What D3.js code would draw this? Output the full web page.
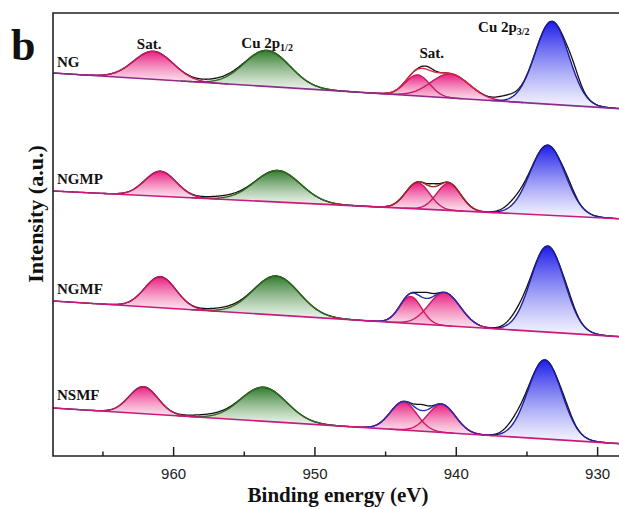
<!DOCTYPE html>
<html>
<head>
<meta charset="utf-8">
<script src="https://cdn.jsdelivr.net/npm/d3@7"></script>
<style>
  body { margin: 0; background: #fff; }
  svg { display: block; }
</style>
</head>
<body>
<svg id="chart" width="619" height="509"></svg>
<script>
/* Cu 2p XPS spectra, four samples stacked */

var samples = [ "NG", "NGMP", "NGMF", "NSMF" ];

/* linear background: intensity at 968.5 eV and at 928 eV (a.u.) */
var baseLeft  = [ 383, 265, 155, 48 ];
var baseRight = [ 347, 237, 119, 12 ];

/* fitted components: [centre eV, height a.u., fwhm eV] */
var satHigh = [ [961.4, 28, 3.3], [960.9, 25, 2.6], [960.9, 31, 2.6], [962.1, 27, 2.4] ];
var cu2p12  = [ [953.35, 36, 3.8], [952.6, 31.5, 3.8], [952.7, 39, 3.8], [953.6, 34, 3.8] ];
var satA    = [ [942.7, 21, 2.0], [942.7, 26, 2.0], [943.2, 27, 1.8], [943.7, 28, 2.2] ];
var satB    = [ [940.4, 24, 3.2], [940.5, 27, 2.0], [940.8, 33, 2.6], [941.0, 28, 2.3] ];
var cu2p32  = [ [933.2, 83, 2.8], [933.5, 70, 2.9], [933.5, 86, 2.8], [933.7, 79, 2.8] ];

/* extra intensity in the measured curve that the fit misses */
var rawExtra = [
    [ [956.8, 2, 3.0], [936.4, 4, 1.6], [931.7, 7, 1.1], [942.0, 3, 1.0] ],
    [ [956.5, 2, 3.0], [935.8, 5, 1.6], [932.0, 3, 1.0], [941.6, 3, 0.8] ],
    [ [956.5, 2, 3.0], [935.6, 6, 1.6], [932.0, 3, 1.0], [942.1, 6, 1.0] ],
    [ [957.5, 2, 3.0], [935.8, 6, 1.6], [932.2, 3, 1.0], [942.4, 6, 1.0] ]
];

var majorTicks = [ 960, 950, 940, 930 ];
var minorTicks = [ 965, 955, 945, 935 ];

(function( ) {
"use strict";

var svg = d3.select("#chart"),
    W = 619, H = 509,
    left = 53, top = 13, bottom = 456,

    x = d3.scaleLinear().domain([968.5, 928]).range([left, left + 40.5 * 14.133]),
    y = d3.scaleLinear().domain([0, 443]).range([bottom, top]),

    grid = d3.range(968.5, 927.95, -0.05),

    /* styles */
    _st = {
        pink  : { top : "#e8127a", bot : "#fbdde9", line : "#c8195f" },
        green : { top : "#257522", bot : "#ebf3e9", line : "#2f6a1c" },
        blue  : { top : "#1010e8", bot : "#f1f1ff", line : "#1c1ca0" },
        base  : [ "#8e2a8e", "#c8197f", "#c8197f", "#c8197f" ],
        fit   : [ "#d8283c", "#a0281e", "#2a2ab8", "#2a2ab8" ],
        serif : "'Liberation Serif','Times New Roman',serif",
        sans  : "'Liberation Sans',Arial,sans-serif"
    },

    gauss = function( e, p ) {
        var s = p[2] / 2.3548;
        return p[1] * Math.exp( -(e - p[0]) * (e - p[0]) / (2 * s * s) );
    },
    baseAt = function( i, e ) {
        return baseLeft[i] + (baseRight[i] - baseLeft[i]) * (968.5 - e) / 40.5;
    },
    defs = svg.append("defs");

/* vertical gradients, one per colour */
[ "pink", "green", "blue" ].forEach(function( k ){
    var g = defs.append("linearGradient")
        .attr("id", "grad-" + k)
        .attr("x1", 0).attr("y1", 0).attr("x2", 0).attr("y2", 1);
    g.append("stop").attr("offset", "0%").attr("stop-color", _st[k].top).attr("stop-opacity", 0.95);
    g.append("stop").attr("offset", "100%").attr("stop-color", _st[k].bot).attr("stop-opacity", 0.65);
});

defs.append("clipPath").attr("id", "plot-clip")
    .append("rect").attr("x", left).attr("y", top).attr("width", W - left).attr("height", bottom - top);

var plot = svg.append("g").attr("clip-path", "url(#plot-clip)");

samples.forEach(function( name, i ){
    var comps = [
            { p : satHigh[i], c : "pink" },
            { p : cu2p12[i],  c : "green" },
            { p : satA[i],    c : "pink" },
            { p : satB[i],    c : "pink" },
            { p : cu2p32[i],  c : "blue" }
        ],
        g = plot.append("g").attr("data-name", name),
        fitSum = function( e ){
            return comps.reduce(function( a, c ){ return a + gauss(e, c.p); }, 0);
        },
        rawSum = function( e ){
            return rawExtra[i].reduce(function( a, p ){ return a + gauss(e, p); }, fitSum(e));
        };

    /* component fills */
    comps.forEach(function( c ){
        var s = c.p[2] / 2.3548,
            pts = grid.filter(function( e ){ return Math.abs(e - c.p[0]) < 3.6 * s; }),
            area = d3.area()
                .x(function( e ){ return x(e); })
                .y0(function( e ){ return y(baseAt(i, e)); })
                .y1(function( e ){ return y(baseAt(i, e) + gauss(e, c.p)); });
        g.append("path").attr("d", area(pts))
            .attr("fill", "url(#grad-" + c.c + ")")
            .attr("stroke", "none");
    });

    /* measured curve */
    g.append("path")
        .attr("d", d3.line()
            .x(function( e ){ return x(e); })
            .y(function( e ){ return y(baseAt(i, e) + rawSum(e)); })(grid))
        .attr("fill", "none").attr("stroke", "#111").attr("stroke-width", 1.3);

    /* component outlines */
    comps.forEach(function( c ){
        var s = c.p[2] / 2.3548,
            pts = grid.filter(function( e ){ return Math.abs(e - c.p[0]) < 3.8 * s; });
        g.append("path")
            .attr("d", d3.line()
                .x(function( e ){ return x(e); })
                .y(function( e ){ return y(baseAt(i, e) + gauss(e, c.p)); })(pts))
            .attr("fill", "none").attr("stroke", _st[c.c].line).attr("stroke-width", 1.4);
    });

    /* fit envelope over the satellite region */
    g.append("path")
        .attr("d", d3.line()
            .x(function( e ){ return x(e); })
            .y(function( e ){ return y(baseAt(i, e) + fitSum(e)); })(
                grid.filter(function( e ){ return e < 946.5 && e > 938.2; })))
        .attr("fill", "none").attr("stroke", _st.fit[i]).attr("stroke-width", 1.4);

    /* background */
    g.append("path")
        .attr("d", d3.line()
            .x(function( e ){ return x(e); })
            .y(function( e ){ return y(baseAt(i, e)); })([968.5, 928]))
        .attr("stroke", _st.base[i]).attr("stroke-width", 1.6);
});

/* sample names */
var nameY = [ 67, 184, 294, 400 ];
samples.forEach(function( name, i ){
    svg.append("text").attr("x", 57).attr("y", nameY[i]).text(name)
        .style("font-family", _st.serif).style("font-weight", "bold").style("font-size", "15px")
        .attr("fill", "#111");
});

/* peak labels */
var lab = svg.append("g")
    .style("font-family", _st.serif).style("font-weight", "bold").style("font-size", "15px")
    .attr("fill", "#111").attr("text-anchor", "middle");
lab.append("text").attr("x", x(961.7)).attr("y", 49).text("Sat.");
lab.append("text").attr("x", x(941.7)).attr("y", 58).text("Sat.");
var t1 = lab.append("text").attr("x", x(953.35)).attr("y", 48);
t1.append("tspan").text("Cu 2p");
t1.append("tspan").attr("dy", 3).style("font-size", "10px").text("1/2");
var t2 = lab.append("text").attr("x", x(936.6)).attr("y", 32);
t2.append("tspan").text("Cu 2p");
t2.append("tspan").attr("dy", 3).style("font-size", "10px").text("3/2");

/* frame */
svg.append("path")
    .attr("d", "M" + (W + 5) + "," + top + "H" + left + "V" + bottom + "H" + (W + 5))
    .attr("fill", "none").attr("stroke", "#222").attr("stroke-width", 1.6);

/* x axis */
var axMajor = svg.append("g").attr("transform", "translate(0," + bottom + ")")
    .call(d3.axisBottom(x).tickValues(majorTicks).tickSize(-9).tickPadding(12).tickFormat(d3.format("d")));
var axMinor = svg.append("g").attr("transform", "translate(0," + bottom + ")")
    .call(d3.axisBottom(x).tickValues(minorTicks).tickSize(-4.5).tickFormat(""));
[ axMajor, axMinor ].forEach(function( a ){
    a.select(".domain").remove();
    a.selectAll("line").attr("stroke", "#222").attr("stroke-width", 1.5);
});
axMajor.selectAll("text")
    .style("font-family", _st.sans).style("font-size", "15px").attr("fill", "#222");

/* axis titles */
svg.append("text").attr("x", 338).attr("y", 502).attr("text-anchor", "middle")
    .style("font-family", _st.serif).style("font-weight", "bold").style("font-size", "21px")
    .attr("fill", "#111").text("Binding energy (eV)");
svg.append("text").attr("transform", "translate(43,214) rotate(-90)").attr("text-anchor", "middle")
    .style("font-family", _st.serif).style("font-weight", "bold").style("font-size", "22px")
    .attr("fill", "#111").text("Intensity (a.u.)");

/* panel letter */
svg.append("text").attr("x", 11).attr("y", 60)
    .style("font-family", _st.serif).style("font-weight", "bold").style("font-size", "44px")
    .attr("fill", "#111").text("b");

})( );
</script>
</body>
</html>
